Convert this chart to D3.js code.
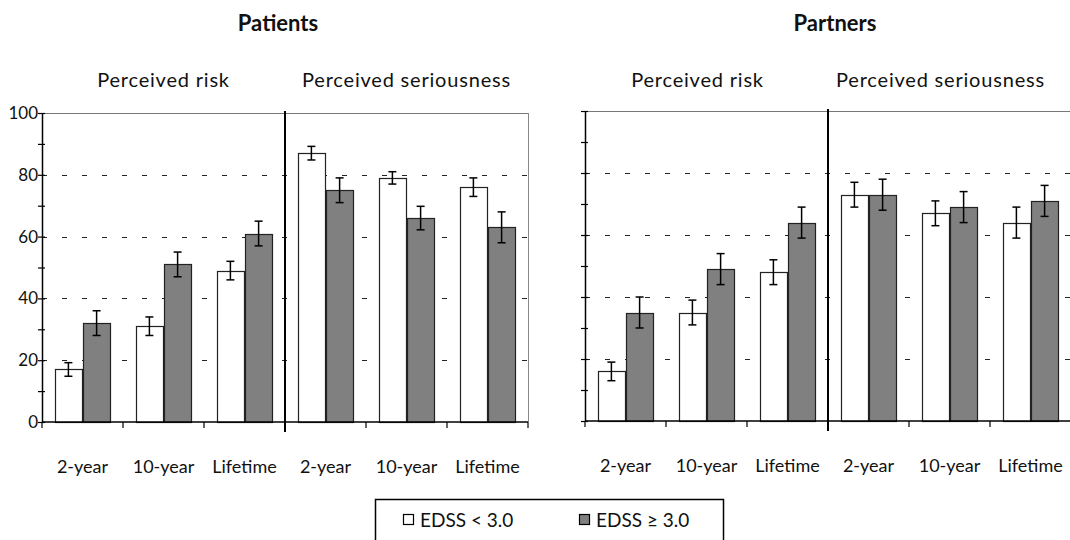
<!DOCTYPE html>
<html>
<head>
<meta charset="utf-8">
<script src="https://cdn.jsdelivr.net/npm/d3@7"></script>
<style>
  body { margin: 0; background: #fff; }
  text { font-family: Lato, "Open Sans", sans-serif; fill: #111; }
  .title { font-weight: bold; font-size: 22px; }
  .sub { font-size: 20px; letter-spacing: 0.8px; }
  .tick-label { font-size: 18px; }
</style>
</head>
<body>
<div id="container"></div>
<script>
// data
var categories = ["2-year", "10-year", "Lifetime", "2-year", "10-year", "Lifetime"];
var groups = ["Perceived risk", "Perceived seriousness"];
var seriesNames = ["EDSS < 3.0", "EDSS \u2265 3.0"];
var yTicks = [0, 20, 40, 60, 80, 100];

var patientsLow = [17, 31, 49, 87, 79, 76];
var patientsLowErr = [2.2, 3, 3, 2.2, 2, 3];
var patientsHigh = [32, 51, 61, 75, 66, 63];
var patientsHighErr = [4, 4, 4, 4, 3.8, 5];

var partnersLow = [16, 35, 48, 73, 67, 64];
var partnersLowErr = [3, 4, 4, 4, 4, 5];
var partnersHigh = [35, 49, 64, 73, 69, 71];
var partnersHighErr = [5, 5, 5, 5, 5, 5];

var fills = ["#ffffff", "#808080"];

var svg = d3.select("#container")
  .append("svg")
    .attr("width", 1070)
    .attr("height", 540);

function drawPanel(cfg) {
    var g = svg.append("g");

    var x = d3.scaleBand()
        .domain(d3.range(categories.length))
        .range([cfg.x0, cfg.x1]);

    var xs = d3.scaleBand()
        .domain([0, 1])
        .range([13, x.bandwidth() - 13])
        .paddingInner(0.05);

    var y = d3.scaleLinear()
        .domain([0, 100])
        .range([cfg.bottom, cfg.top]);

    // dashed gridlines
    g.selectAll(".grid")
        .data(yTicks.filter(function(d) { return d > 0; }))
        .enter().append("line")
        .attr("x1", cfg.x0)
        .attr("x2", cfg.x1)
        .attr("y1", function(d) { return Math.round(y(d)) + 0.5; })
        .attr("y2", function(d) { return Math.round(y(d)) + 0.5; })
        .attr("stroke", "#222")
        .attr("stroke-width", 1)
        .attr("stroke-dasharray", "5,15");

    // top line is solid grey under the dashes
    g.append("line")
        .attr("x1", cfg.x0).attr("x2", cfg.x1)
        .attr("y1", Math.round(y(100)) + 0.5).attr("y2", Math.round(y(100)) + 0.5)
        .attr("stroke", "#777").attr("stroke-width", 1.2);

    if (cfg.rightBorder) {
        g.append("line")
            .attr("x1", cfg.x1 + 0.5).attr("x2", cfg.x1 + 0.5)
            .attr("y1", y(100)).attr("y2", y(0))
            .attr("stroke", "#888").attr("stroke-width", 1);
    }

    var rows = categories.map(function(c, i) {
        return [
            {i: i, s: 0, v: cfg.low[i], e: cfg.lowErr[i]},
            {i: i, s: 1, v: cfg.high[i], e: cfg.highErr[i]}
        ];
    });
    var flat = d3.merge(rows);

    // bars
    g.selectAll(".bar")
        .data(flat)
        .enter().append("rect")
        .attr("x", function(d) { return Math.round(x(d.i) + xs(d.s)) + 0.5; })
        .attr("y", function(d) { return Math.round(y(d.v)) + 0.5; })
        .attr("width", Math.round(xs.bandwidth()))
        .attr("height", function(d) { return Math.round(y(0)) - Math.round(y(d.v)); })
        .attr("fill", function(d) { return fills[d.s]; })
        .attr("stroke", "#222")
        .attr("stroke-width", 1.2);

    // error bars
    var eb = g.selectAll(".err")
        .data(flat)
        .enter().append("g")
        .attr("transform", function(d) {
            return "translate(" + (x(d.i) + xs(d.s) + xs.bandwidth() / 2) + ",0)";
        });
    eb.append("line")
        .attr("y1", function(d) { return y(d.v + d.e); })
        .attr("y2", function(d) { return y(d.v - d.e); })
        .attr("stroke", "#000").attr("stroke-width", 1.5);
    eb.append("line")
        .attr("x1", -4).attr("x2", 4)
        .attr("y1", function(d) { return y(d.v + d.e); })
        .attr("y2", function(d) { return y(d.v + d.e); })
        .attr("stroke", "#000").attr("stroke-width", 1.5);
    eb.append("line")
        .attr("x1", -4).attr("x2", 4)
        .attr("y1", function(d) { return y(d.v - d.e); })
        .attr("y2", function(d) { return y(d.v - d.e); })
        .attr("stroke", "#000").attr("stroke-width", 1.5);

    // y axis with minor ticks crossing the line
    var yAxis = g.append("g")
        .attr("transform", "translate(" + cfg.x0 + ",0)")
        .call(d3.axisLeft(y)
            .tickValues(d3.range(0, 101, 10))
            .tickSize(4)
            .tickSizeOuter(0)
            .tickFormat(function(d) { return (cfg.labels && d % 20 === 0) ? d : ""; }));
    yAxis.select(".domain").attr("stroke", "#000").attr("stroke-width", 1.5);
    yAxis.selectAll(".tick line").attr("x2", 3).attr("x1", -4).attr("stroke", "#000").attr("stroke-width", 1.2);
    yAxis.selectAll(".tick text")
        .attr("x", -4)
        .style("font-family", "Lato, sans-serif")
        .style("font-size", "17px")
        .attr("fill", "#111");

    // x axis, ticks at band edges
    var xAxis = g.append("g")
        .attr("transform", "translate(0," + y(0) + ")");
    xAxis.append("line")
        .attr("x1", cfg.x0).attr("x2", cfg.x1)
        .attr("stroke", "#000").attr("stroke-width", 1.5);
    xAxis.selectAll(".edge")
        .data(d3.range(categories.length + 1))
        .enter().append("line")
        .attr("x1", function(i) { return cfg.x0 + i * x.bandwidth(); })
        .attr("x2", function(i) { return cfg.x0 + i * x.bandwidth(); })
        .attr("y1", 0).attr("y2", 6)
        .attr("stroke", "#000").attr("stroke-width", 1.2);
    xAxis.selectAll(".cat")
        .data(categories)
        .enter().append("text")
        .attr("class", "tick-label")
        .attr("x", function(d, i) { return x(i) + x.bandwidth() / 2; })
        .attr("y", 51)
        .attr("text-anchor", "middle")
        .text(function(d) { return d; });

    // divider between risk and seriousness
    var xd = x(3);
    g.append("line")
        .attr("x1", xd).attr("x2", xd)
        .attr("y1", cfg.top - 2).attr("y2", cfg.bottom + 10)
        .attr("stroke", "#000").attr("stroke-width", 2);

    // group headers
    g.selectAll(".sub")
        .data(groups)
        .enter().append("text")
        .attr("class", "sub")
        .attr("x", function(d, k) { return x(k * 3) + 1.5 * x.bandwidth() + cfg.subShift; })
        .attr("y", 87)
        .attr("text-anchor", "middle")
        .text(function(d) { return d; });

    g.append("text")
        .attr("class", "title")
        .attr("x", (cfg.x0 + cfg.x1) / 2 + cfg.titleShift)
        .attr("y", 31)
        .attr("text-anchor", "middle")
        .text(cfg.title);
}

drawPanel({
    title: "Patients", x0: 42, x1: 528, top: 113, bottom: 422,
    low: patientsLow, lowErr: patientsLowErr, high: patientsHigh, highErr: patientsHighErr,
    labels: true, rightBorder: true, subShift: 0, titleShift: -7
});

drawPanel({
    title: "Partners", x0: 585, x1: 1071, top: 111, bottom: 421,
    low: partnersLow, lowErr: partnersLowErr, high: partnersHigh, highErr: partnersHighErr,
    labels: false, rightBorder: false, subShift: -9, titleShift: 7
});

// legend
var legend = svg.append("g");
legend.append("rect")
    .attr("x", 375.5).attr("y", 499.5)
    .attr("width", 348).attr("height", 60)
    .attr("fill", "none")
    .attr("stroke", "#000")
    .attr("stroke-width", 1.5);

var lx = [403, 579];
legend.selectAll(".sw")
    .data(seriesNames)
    .enter().append("rect")
    .attr("x", function(d, i) { return lx[i] + 0.5; })
    .attr("y", 514.5)
    .attr("width", 10).attr("height", 10)
    .attr("fill", function(d, i) { return fills[i]; })
    .attr("stroke", "#000")
    .attr("stroke-width", 1.2);
legend.selectAll(".lt")
    .data(seriesNames)
    .enter().append("text")
    .attr("x", function(d, i) { return lx[i] + 17; })
    .attr("y", 527)
    .style("font-size", "19px")
    .text(function(d) { return d; });
</script>
</body>
</html>
